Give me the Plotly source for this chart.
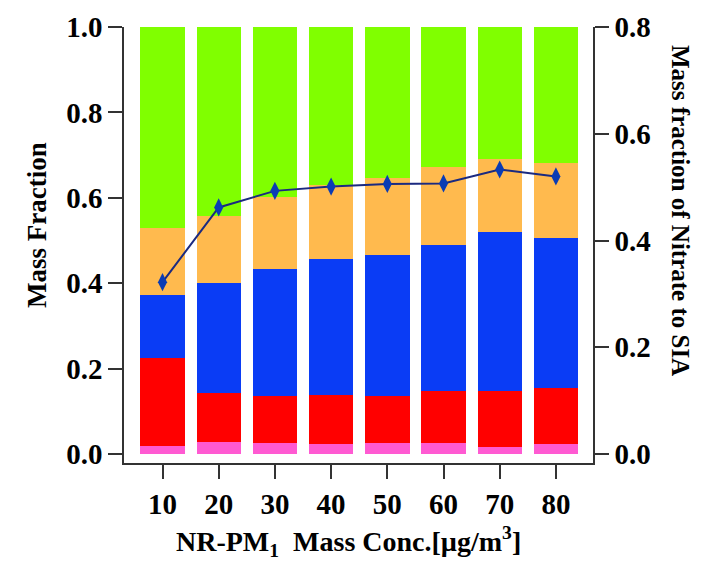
import plotly.graph_objects as go

# NR-PM1 mass concentration bins (µg/m3)
conc = [10, 20, 30, 40, 50, 60, 70, 80]
tick_labels = ["10", "20", "30", "40", "50", "60", "70", "80"]

# Mass fraction of each species per concentration bin (stacked bottom to top)
chl = [0.019, 0.028, 0.026, 0.023, 0.027, 0.025, 0.016, 0.023]
so4 = [0.205, 0.115, 0.111, 0.116, 0.110, 0.123, 0.132, 0.131]
no3 = [0.148, 0.257, 0.297, 0.318, 0.330, 0.342, 0.371, 0.352]
nh4 = [0.157, 0.158, 0.167, 0.172, 0.179, 0.183, 0.173, 0.176]
org = [0.471, 0.442, 0.399, 0.371, 0.354, 0.327, 0.308, 0.318]

# Nitrate fraction of secondary inorganic aerosol
no3_sia = [0.322, 0.462, 0.493, 0.501, 0.506, 0.507, 0.533, 0.520]

species = [
    ("Chl", chl, "#FF5AD2"),
    ("SO4", so4, "#FF0000"),
    ("NO3", no3, "#0A3CF5"),
    ("NH4", nh4, "#FFBA4E"),
    ("Org", org, "#80FF00"),
]

FONT = "Liberation Serif"
AXIS_COLOR = "#333333"

fig = go.Figure()
for name, vals, color in species:
    fig.add_trace(go.Bar(
        x=conc, y=vals, name=name, width=7.9,
        marker=dict(color=color, line=dict(width=0)),
        yaxis="y",
    ))

fig.add_trace(go.Scatter(
    x=conc, y=no3_sia, name="NO3/SIA", yaxis="y2",
    mode="lines+markers",
    line=dict(color="#1B2A80", width=2),
    marker=dict(symbol="diamond-tall", size=13, color="#0A3CB4",
                line=dict(width=0)),
))

tickfont = dict(family=FONT, size=29, color="black", weight="bold")

fig.update_layout(
    width=707, height=561,
    margin=dict(l=124, r=114, t=27, b=98),
    paper_bgcolor="white", plot_bgcolor="white",
    barmode="stack", bargap=0, showlegend=False,
    xaxis=dict(
        range=[3.15, 86.6], tickvals=conc, ticktext=tick_labels,
        showline=True, linecolor=AXIS_COLOR, linewidth=1.5,
        ticks="outside", ticklen=14, tickwidth=1.5, tickcolor=AXIS_COLOR,
        showgrid=False, zeroline=False, tickfont=tickfont,
    ),
    yaxis=dict(
        range=[-0.021, 1.0], tickvals=[0, 0.2, 0.4, 0.6, 0.8, 1.0],
        tickformat=".1f",
        showline=True, linecolor=AXIS_COLOR, linewidth=1.5,
        ticks="outside", ticklen=14, tickwidth=1.5, tickcolor=AXIS_COLOR,
        showgrid=False, zeroline=False, tickfont=tickfont,
        ticklabelstandoff=0,
    ),
    yaxis2=dict(
        range=[-0.0168, 0.8], tickvals=[0, 0.2, 0.4, 0.6, 0.8],
        tickformat=".1f", overlaying="y", side="right",
        showline=True, linecolor=AXIS_COLOR, linewidth=1.5,
        ticks="outside", ticklen=14, tickwidth=1.5, tickcolor=AXIS_COLOR,
        showgrid=False, zeroline=False, tickfont=tickfont,
        ticklabelstandoff=0,
    ),
)

pw = 707 - 124 - 114
ph = 561 - 27 - 98

fig.add_annotation(
    text="Mass Fraction", xref="paper", yref="paper",
    x=(37 - 124) / pw, y=(561 - 98 - 225) / ph,
    xanchor="center", yanchor="middle", textangle=-90,
    showarrow=False,
    font=dict(family=FONT, size=27, color="black", weight="bold"),
)
fig.add_annotation(
    text="Mass fraction of Nitrate to SIA", xref="paper", yref="paper",
    x=(681 - 124) / pw, y=(561 - 98 - 210) / ph,
    xanchor="center", yanchor="middle", textangle=90,
    showarrow=False,
    font=dict(family=FONT, size=25, color="black", weight="bold"),
)
fig.add_annotation(
    text="NR-PM<sub>1</sub>  Mass Conc.[µg/m<sup>3</sup>]",
    xref="paper", yref="paper",
    x=(348 - 124) / pw, y=-(541 - 463) / ph,
    xanchor="center", yanchor="middle",
    showarrow=False,
    font=dict(family=FONT, size=28, color="black", weight="bold"),
)

fig.write_html("out.html")
